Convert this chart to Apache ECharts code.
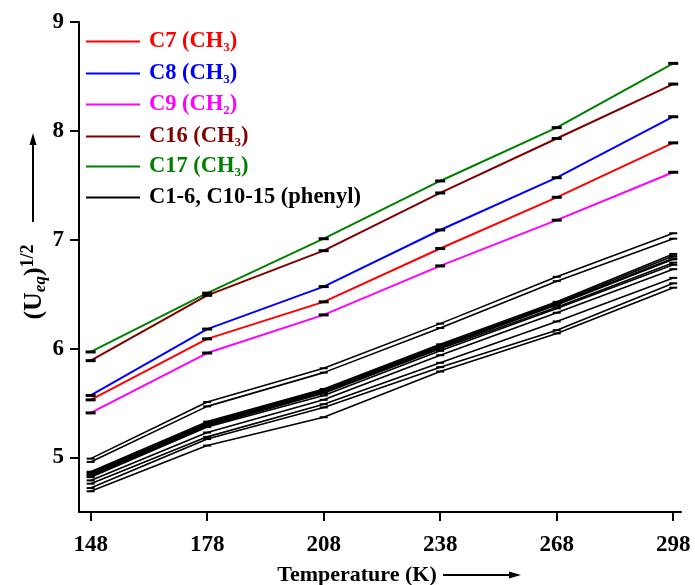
<!DOCTYPE html>
<html>
<head>
<meta charset="utf-8">
<script src="https://cdn.jsdelivr.net/npm/echarts@6/dist/echarts.min.js"></script>
<style>
  html, body { margin: 0; padding: 0; background: #fff; }
  #chart { width: 695px; height: 585px; }
</style>
</head>
<body>
<div id="chart"></div>
<script>
const temps = [148, 178, 208, 238, 268, 298];
const yTicks = [5, 6, 7, 8, 9];

// named methyl / methylene carbons
const c7 = [5.53, 6.09, 6.43, 6.92, 7.39, 7.89];
const c8 = [5.57, 6.18, 6.57, 7.09, 7.57, 8.13];
const c9 = [5.41, 5.96, 6.31, 6.76, 7.18, 7.62];
const c16 = [5.89, 6.49, 6.90, 7.43, 7.93, 8.43];
const c17 = [5.97, 6.51, 7.01, 7.54, 8.03, 8.62];

// phenyl carbons C1-6, C10-15
const phenyl = [
  [4.99, 5.51, 5.82, 6.23, 6.66, 7.06],
  [4.96, 5.47, 5.78, 6.19, 6.62, 7.01],
  [4.87, 5.33, 5.63, 6.04, 6.43, 6.87],
  [4.86, 5.32, 5.62, 6.03, 6.42, 6.85],
  [4.85, 5.31, 5.61, 6.02, 6.41, 6.83],
  [4.84, 5.30, 5.60, 6.01, 6.40, 6.82],
  [4.83, 5.29, 5.59, 6.00, 6.38, 6.79],
  [4.82, 5.28, 5.57, 5.98, 6.37, 6.77],
  [4.79, 5.23, 5.53, 5.94, 6.33, 6.73],
  [4.76, 5.19, 5.49, 5.87, 6.25, 6.65],
  [4.72, 5.17, 5.46, 5.83, 6.17, 6.60],
  [4.69, 5.11, 5.37, 5.79, 6.14, 6.56]
];

const PHENYL = "C1-6, C10-15 (phenyl)";
const named = [
  { name: "C7 (CH3)", data: c7, color: "#ff0000", y: 43 },
  { name: "C8 (CH3)", data: c8, color: "#0000ff", y: 75 },
  { name: "C9 (CH2)", data: c9, color: "#ff00ff", y: 106 },
  { name: "C16 (CH3)", data: c16, color: "#800000", y: 138 },
  { name: "C17 (CH3)", data: c17, color: "#008000", y: 168 }
];

const FONT = "'Liberation Serif', 'Times New Roman', serif";

function pairs(values) {
  return values.map((v, i) => [temps[i], v]);
}

function legendLabel(name) {
  const m = name.match(/^(.*\(CH)(\d)\)$/);
  if (!m) return `{n|${name}}`;
  return `{n|${m[1]}}{s|${m[2]}}{n|)}`;
}

const series = [];
phenyl.forEach((vals) => {
  series.push({
    name: PHENYL,
    type: "line",
    data: pairs(vals),
    symbol: "rect",
    symbolSize: [8, 2],
    lineStyle: { color: "#000", width: 1.6 },
    itemStyle: { color: "#000" },
    z: 2
  });
});
named.forEach((s) => {
  series.push({
    name: s.name,
    type: "line",
    data: pairs(s.data),
    symbol: "rect",
    symbolSize: [10, 3],
    lineStyle: { color: s.color, width: 2 },
    itemStyle: { color: "#000" },
    z: 3
  });
});

const legendRows = named.concat([{ name: PHENYL, color: "#000", y: 199 }]);
const legends = legendRows.map((r) => ({
  left: 86,
  top: r.y - 13,
  padding: 0,
  orient: "vertical",
  icon: "rect",
  itemWidth: 54,
  itemHeight: 2,
  selectedMode: false,
  data: [{ name: r.name, itemStyle: { color: r.color }, textStyle: { color: r.color } }],
  formatter: legendLabel,
  textStyle: {
    padding: [0, 0, 0, 4],
    rich: {
      n: { fontFamily: FONT, fontWeight: "bold", fontSize: 22.5, lineHeight: 26 },
      s: { fontFamily: FONT, fontWeight: "bold", fontSize: 13, lineHeight: 4, verticalAlign: "bottom" }
    }
  }
}));

const chart = echarts.init(document.getElementById("chart"), null, { renderer: "canvas" });
chart.setOption({
  animation: false,
  backgroundColor: "#fff",
  grid: { left: 79, right: 14, top: 22, bottom: 73, outerBoundsMode: "none" },
  legend: legends,
  xAxis: {
    type: "value",
    min: 145,
    max: 300,
    splitLine: { show: false },
    axisLine: { show: true, onZero: false, lineStyle: { color: "#000", width: 2 } },
    axisTick: { show: true, customValues: temps, length: 9, lineStyle: { color: "#000", width: 2 } },
    axisLabel: {
      customValues: temps,
      margin: 22,
      color: "#000",
      fontFamily: FONT,
      fontWeight: "bold",
      fontSize: 23
    }
  },
  yAxis: {
    type: "value",
    min: 4.5,
    max: 9,
    splitLine: { show: false },
    axisLine: { show: true, onZero: false, lineStyle: { color: "#000", width: 2 } },
    axisTick: { show: true, customValues: yTicks, length: 9, lineStyle: { color: "#000", width: 2 } },
    axisLabel: {
      customValues: yTicks,
      margin: 15,
      color: "#000",
      fontFamily: FONT,
      fontWeight: "bold",
      fontSize: 23
    }
  },
  graphic: [
    {
      type: "text",
      x: 34,
      y: 282,
      rotation: Math.PI / 2,
      style: {
        text: "{a|(U}{b|eq}{a|)}{c|1/2}",
        align: "center",
        verticalAlign: "middle",
        fill: "#000",
        rich: {
          a: { fontFamily: FONT, fontWeight: "bold", fontSize: 26, lineHeight: 30 },
          b: { fontFamily: FONT, fontWeight: "bold", fontStyle: "italic", fontSize: 17, lineHeight: 4, verticalAlign: "bottom" },
          c: { fontFamily: FONT, fontWeight: "bold", fontSize: 18, lineHeight: 2, verticalAlign: "top" }
        }
      }
    },
    {
      type: "polyline",
      shape: { points: [[33, 222], [33, 138]] },
      style: { stroke: "#000", lineWidth: 2 }
    },
    {
      type: "polygon",
      shape: { points: [[33, 133], [29.5, 145], [36.5, 145]] },
      style: { fill: "#000" }
    },
    {
      type: "text",
      x: 357,
      y: 575,
      style: {
        text: "Temperature (K)",
        align: "center",
        verticalAlign: "middle",
        fill: "#000",
        font: `bold 22px ${FONT}`
      }
    },
    {
      type: "polyline",
      shape: { points: [[443, 575], [515, 575]] },
      style: { stroke: "#000", lineWidth: 2 }
    },
    {
      type: "polygon",
      shape: { points: [[521, 575], [509, 571.5], [509, 578.5]] },
      style: { fill: "#000" }
    }
  ],
  series
});
</script>
</body>
</html>
